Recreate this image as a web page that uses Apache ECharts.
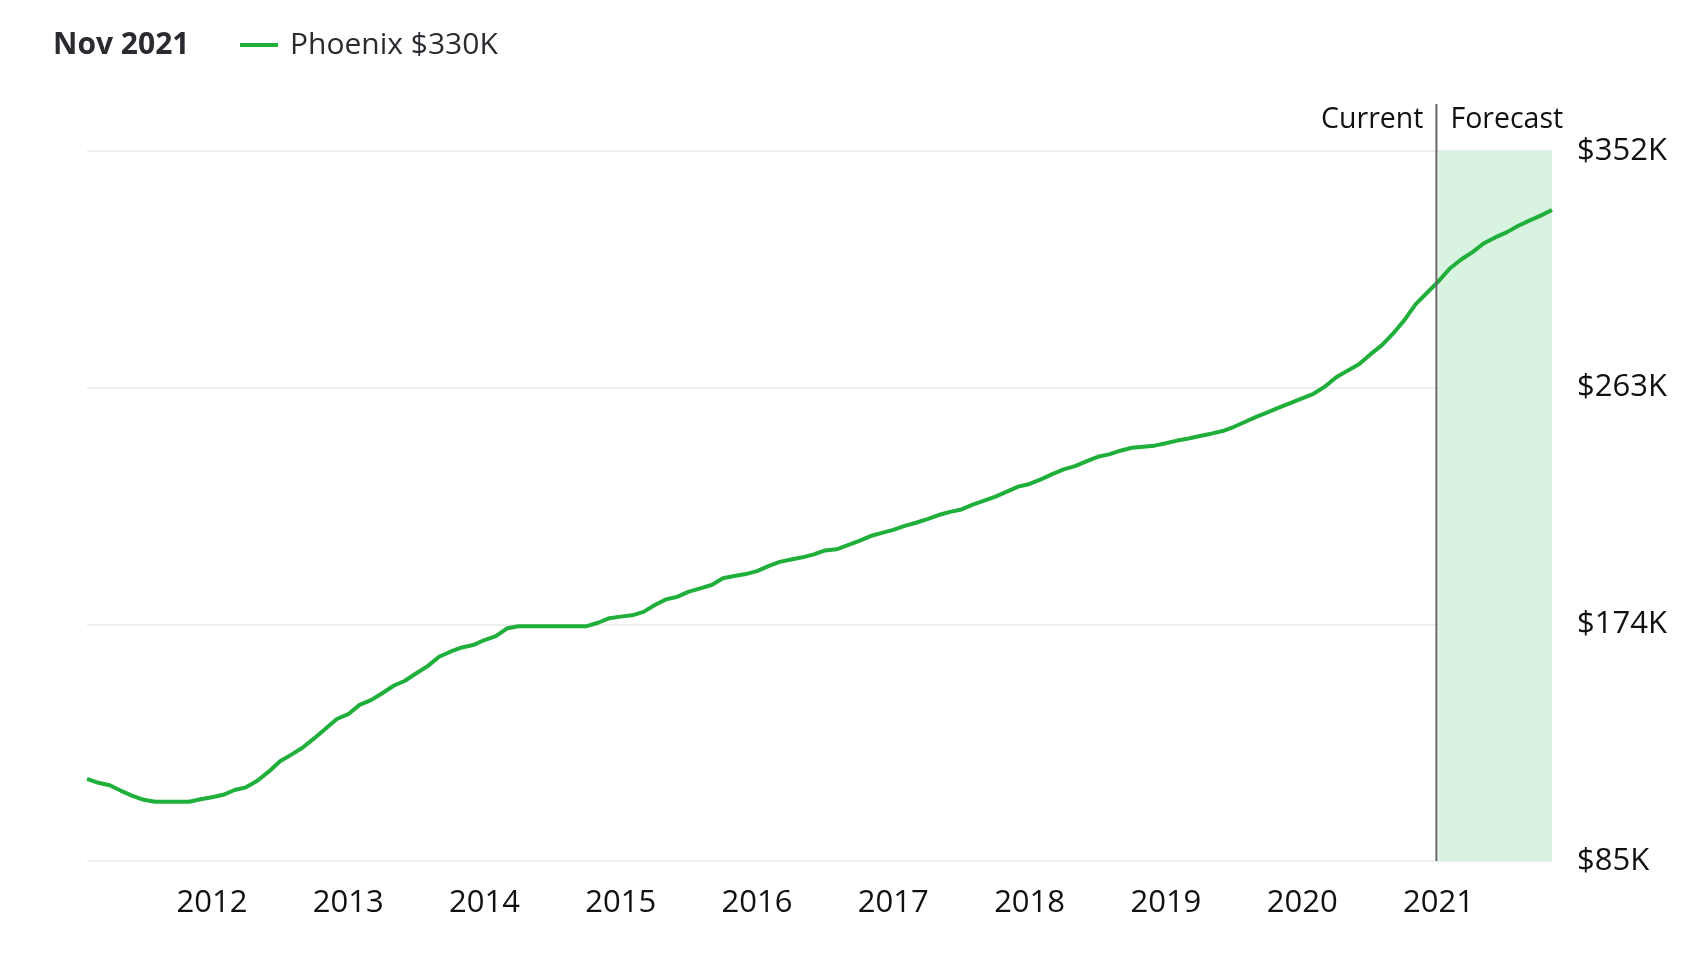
<!DOCTYPE html>
<html>
<head>
<meta charset="utf-8">
<script src="https://cdn.jsdelivr.net/npm/echarts@6/dist/echarts.min.js"></script>
<style>
html,body{margin:0;padding:0;background:#fff;}
#chart{width:1682px;height:958px;}
</style>
</head>
<body>
<div id="chart"></div>
<script>
// ---- data (thousands of USD), monthly Feb 2011 .. Nov 2021 ----
const startYear = 2011, startMonth = 2;
const values = [
  115.9,114.4,113.5,111.4,109.5,108.0,107.3,107.3,107.3,107.3,108.2,
  109.0,109.9,111.7,112.7,115.2,118.6,122.5,125.0,127.7,131.1,134.7,138.4,
  140.2,143.7,145.5,148.1,150.9,152.8,155.6,158.3,161.8,163.7,165.3,166.2,
  168.1,169.6,172.5,173.3,173.3,173.3,173.3,173.3,173.3,173.3,174.6,176.3,
  176.9,177.4,178.7,181.3,183.4,184.4,186.3,187.5,188.8,191.3,192.2,192.9,
  194.0,195.9,197.5,198.4,199.2,200.3,201.8,202.2,203.8,205.4,207.2,208.4,
  209.5,211.0,212.2,213.6,215.1,216.3,217.2,219.0,220.5,222.0,223.9,225.8,
  226.8,228.5,230.5,232.3,233.5,235.3,237.0,237.9,239.3,240.4,240.8,241.2,
  242.1,243.1,243.9,244.8,245.7,246.7,248.3,250.2,252.1,253.8,255.6,257.3,
  259.0,260.7,263.4,266.9,269.4,271.8,275.5,278.9,283.3,288.4,294.4,298.7,
  303.0,307.8,311.2,314.0,317.3,319.5,321.4,323.8,325.8,327.7,329.8
];
const months = [];
for (let i = 0; i < values.length; i++) {
  const m = startMonth - 1 + i;
  const y = startYear + Math.floor(m / 12);
  const mm = (m % 12) + 1;
  months.push(y + '-' + (mm < 10 ? '0' + mm : mm));
}
const yTicks = [85, 174, 263, 352];
const forecastStart = '2021-01';
const forecastEnd = '2021-11';
const seriesName = 'Phoenix $330K';
const titleText = 'Nov 2021';

const FONT = 'Open Sans';
const chart = echarts.init(document.getElementById('chart'));
chart.setOption({
  animation: false,
  backgroundColor: '#ffffff',
  title: {
    text: titleText, left: 48, top: 25,
    textStyle: {fontFamily: FONT, fontSize: 30, fontWeight: 'bold', color: '#2a2a30'}
  },
  legend: {
    left: 235, top: 25,
    icon: 'rect', itemWidth: 38, itemHeight: 4,
    textStyle: {fontFamily: FONT, fontSize: 30, color: '#2a2a30', padding: [0,0,0,7]},
    data: [seriesName]
  },
  grid: {left: 87, right: 130, top: 151, bottom: 97},
  xAxis: {
    type: 'category', data: months, boundaryGap: false,
    axisLine: {show: false}, axisTick: {show: false},
    axisLabel: {
      interval: (idx, val) => val.endsWith('-01'),
      formatter: v => v.slice(0, 4),
      fontFamily: FONT, fontSize: 31, color: '#111', margin: 27
    },
    splitLine: {show: false}
  },
  yAxis: {
    type: 'value', position: 'right', min: yTicks[0], max: yTicks[yTicks.length-1],
    interval: yTicks[1] - yTicks[0], z: 1,
    axisLine: {show: false}, axisTick: {show: false},
    axisLabel: {formatter: v => '$' + v + 'K', fontFamily: FONT, fontSize: 31, color: '#111', margin: 25},
    splitLine: {lineStyle: {color: '#eeeeee', width: 2}}
  },
  series: [
    {
      type: 'line', name: 'forecastArea', data: [], z: 0, silent: true,
      markArea: {
        silent: true,
        itemStyle: {color: '#d8f3df'},
        data: [[{xAxis: forecastStart}, {xAxis: forecastEnd}]]
      }
    },
    {
      type: 'line', name: seriesName, data: values, z: 3,
      showSymbol: false, symbol: 'none', smooth: false,
      lineStyle: {color: '#1faf3a', width: 4},
      itemStyle: {color: '#1faf3a'}
    }
  ]
});

// divider + labels positioned through the chart's own scales
const px = chart.convertToPixel({xAxisIndex: 0}, forecastStart);
const yTop = chart.convertToPixel({yAxisIndex: 0}, yTicks[yTicks.length-1]);
const yBot = chart.convertToPixel({yAxisIndex: 0}, yTicks[0]);
chart.setOption({
  graphic: [
    {type: 'line', z: 5, shape: {x1: px - 2, y1: yTop - 47, x2: px - 2, y2: yBot},
     style: {stroke: '#666', lineWidth: 2}},
    {type: 'text', z: 5, x: px - 15, y: yTop - 31,
     style: {text: 'Current', fontFamily: FONT, fontSize: 28.5, fill: '#111', align: 'right', verticalAlign: 'middle'}},
    {type: 'text', z: 5, x: px + 12, y: yTop - 31,
     style: {text: 'Forecast', fontFamily: FONT, fontSize: 28.5, fill: '#111', align: 'left', verticalAlign: 'middle'}}
  ]
});
</script>
</body>
</html>
